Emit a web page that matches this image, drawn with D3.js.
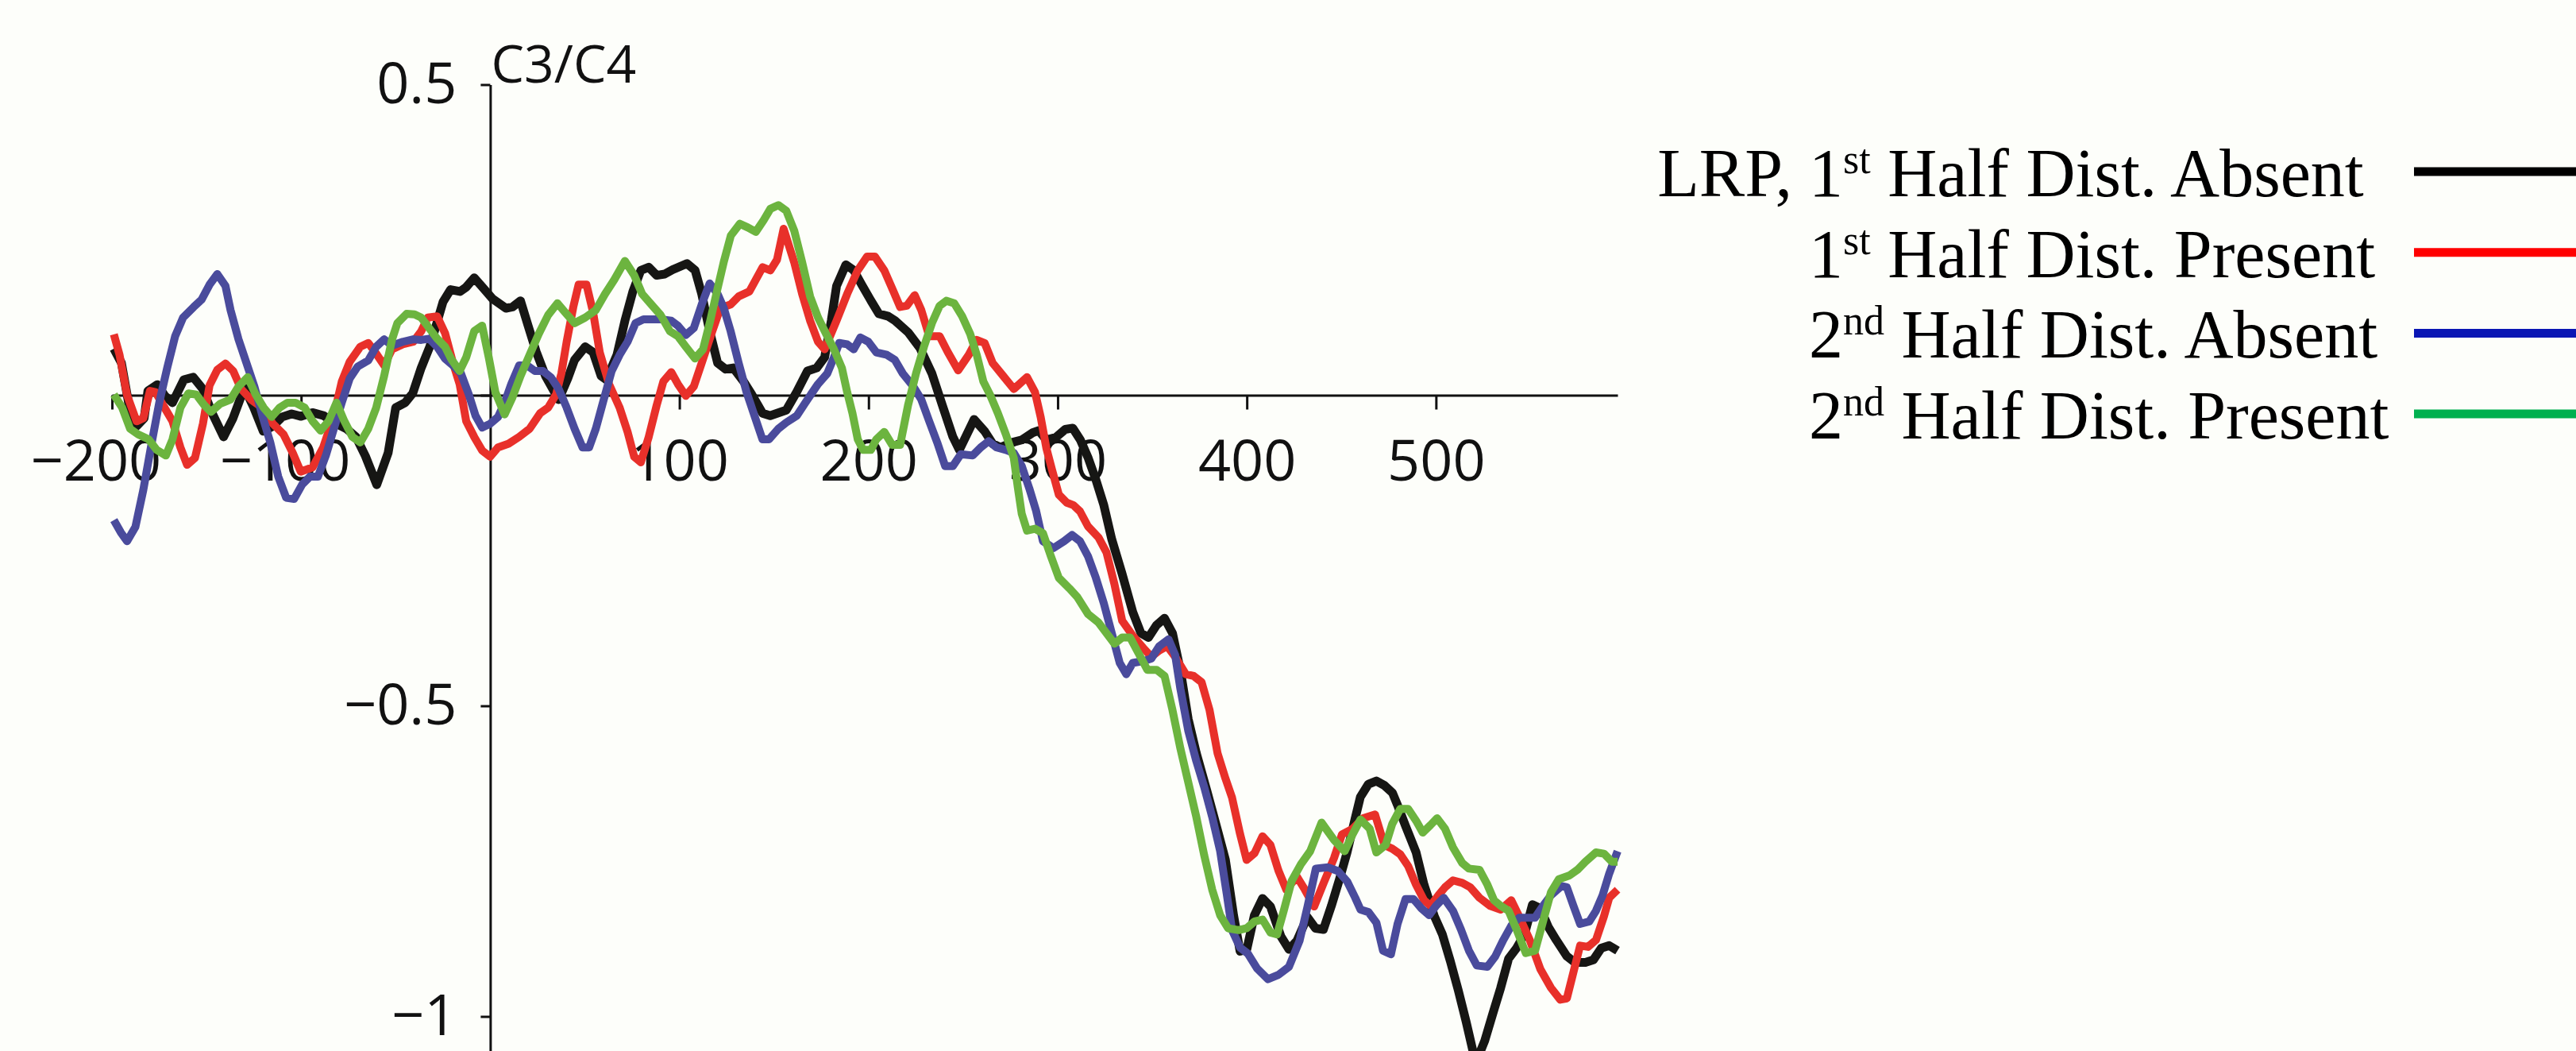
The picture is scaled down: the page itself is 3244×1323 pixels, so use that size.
<!DOCTYPE html>
<html>
<head>
<meta charset="utf-8">
<script src="https://cdn.jsdelivr.net/npm/d3@7"></script>
<style>
  html, body { margin: 0; padding: 0; background: #fdfefa; overflow: hidden; }
  svg { display: block; }
</style>
</head>
<body>
<svg id="chart" width="3244" height="1323"></svg>
<script>
// Lateralized readiness potential (C3/C4), time in ms vs amplitude.
// Each series: [time, amplitude] pairs.
const absent1st = [[-199,0.075],[-195,0.052],[-190,-0.033],[-187,-0.05],[-183,-0.037],[-181,0.007],[-176,0.017],[-172,-0.001],[-168,-0.012],[-162,0.025],[-157,0.029],[-152,0.01],[-147,-0.029],[-141,-0.067],[-136,-0.037],[-130,0.012],[-125,-0.02],[-120,-0.058],[-115,-0.05],[-110,-0.035],[-105,-0.03],[-100,-0.034],[-94,-0.028],[-88,-0.033],[-82,-0.045],[-76,-0.054],[-71,-0.067],[-66,-0.098],[-60,-0.144],[-54,-0.093],[-50,-0.02],[-45,-0.012],[-41,0.003],[-36.5,0.044],[-32,0.078],[-29.5,0.103],[-25,0.15],[-21,0.17],[-16,0.167],[-12.7,0.174],[-8.5,0.189],[-3.6,0.172],[1.3,0.155],[8.3,0.14],[11.8,0.142],[16,0.152],[20,0.112],[24.3,0.07],[29.2,0.031],[36.2,-0.007],[41,0.027],[44.6,0.057],[50.2,0.078],[54.4,0.069],[58.6,0.031],[61.4,0.025],[67,0.065],[71.2,0.12],[75.4,0.167],[79.6,0.201],[83.8,0.206],[88,0.193],[92.2,0.195],[96.4,0.202],[104,0.212],[108.3,0.201],[111.8,0.163],[116,0.103],[120.2,0.052],[124.4,0.042],[128.5,0.044],[134,0.022],[138.3,0.001],[144,-0.029],[148,-0.033],[156.5,-0.024],[162,0.005],[167.7,0.039],[172.6,0.044],[176.8,0.061],[180.3,0.12],[183.1,0.176],[188,0.21],[192.2,0.201],[196.4,0.178],[201.3,0.152],[205.5,0.131],[210.4,0.127],[214,0.12],[221,0.101],[227.2,0.076],[233.5,0.035],[239,-0.016],[244.6,-0.067],[248,-0.088],[255.8,-0.039],[261.4,-0.058],[265.6,-0.078],[269.8,-0.084],[276,-0.076],[281,-0.072],[287,-0.06],[290,-0.057],[294,-0.072],[299,-0.068],[304,-0.055],[308,-0.053],[312,-0.072],[316,-0.1],[320.2,-0.136],[324.4,-0.177],[328.6,-0.232],[334,-0.287],[339.7,-0.349],[344,-0.383],[348,-0.39],[352.3,-0.37],[356.5,-0.359],[360.7,-0.383],[365,-0.445],[369,-0.521],[373.3,-0.576],[379,-0.638],[384.5,-0.7],[388.7,-0.748],[393,-0.837],[396.4,-0.895],[400,-0.892],[404,-0.837],[408.3,-0.81],[412.5,-0.823],[418,-0.871],[422.3,-0.892],[426.5,-0.878],[432,-0.84],[436.3,-0.858],[440.5,-0.86],[444.7,-0.822],[449,-0.779],[453,-0.736],[457.3,-0.681],[460,-0.647],[464.3,-0.626],[468.5,-0.621],[472.7,-0.628],[477,-0.64],[479.7,-0.66],[484,-0.694],[489.5,-0.736],[493.7,-0.788],[499.2,-0.839],[503.4,-0.868],[507.6,-0.911],[511.8,-0.958],[516,-1.009],[521,-1.075],[525.8,-1.039],[530,-0.996],[534.2,-0.954],[538.4,-0.907],[542.6,-0.89],[546.8,-0.868],[551,-0.82],[555.2,-0.826],[559.4,-0.856],[563.6,-0.877],[569.2,-0.903],[573.4,-0.913],[579,-0.913],[583.2,-0.909],[587.4,-0.89],[591.6,-0.886],[596,-0.894]];

const present1st = [[-199,0.098],[-196,0.065],[-192,0.0],[-187,-0.042],[-183.4,-0.037],[-179.9,0.007],[-177,0.005],[-172.2,-0.02],[-168,-0.042],[-163.8,-0.084],[-160.3,-0.112],[-156.1,-0.101],[-151.9,-0.046],[-148.4,0.016],[-144.3,0.041],[-140,0.051],[-135.9,0.039],[-131.7,0.01],[-126.1,-0.008],[-120.5,-0.02],[-114.9,-0.046],[-109.3,-0.063],[-104.4,-0.093],[-100.2,-0.123],[-93.9,-0.116],[-88.3,-0.084],[-82.7,-0.033],[-78.5,0.022],[-74.3,0.054],[-68.7,0.078],[-64.5,0.084],[-60.3,0.067],[-56.1,0.048],[-51.9,0.074],[-46.3,0.082],[-40.7,0.086],[-36.5,0.103],[-33,0.125],[-28.1,0.127],[-23.9,0.1],[-19.7,0.052],[-16.2,0.018],[-12.7,-0.042],[-8.5,-0.067],[-4.3,-0.089],[-0.1,-0.099],[4.1,-0.084],[9.7,-0.078],[15.3,-0.067],[20.8,-0.054],[26.4,-0.029],[30.6,-0.02],[34.8,0.001],[37.6,0.035],[40.4,0.086],[43.9,0.142],[46.7,0.178],[50.9,0.178],[54.4,0.133],[57.9,0.069],[62.8,0.018],[68.4,-0.02],[72.6,-0.059],[76.1,-0.099],[79.6,-0.108],[83.8,-0.067],[88,-0.016],[91.5,0.022],[95.7,0.037],[99.2,0.018],[103.4,-0.001],[107.6,0.014],[111.8,0.052],[117.4,0.103],[121.6,0.14],[127.1,0.146],[131.3,0.159],[137,0.167],[144,0.206],[148.1,0.201],[151.6,0.218],[155.1,0.268],[160.7,0.214],[164.9,0.163],[169.1,0.12],[173.3,0.086],[176.8,0.074],[183.1,0.12],[188.7,0.163],[194.3,0.201],[199.2,0.223],[203.4,0.223],[208.3,0.201],[213.2,0.167],[216.7,0.142],[220.2,0.144],[224.4,0.161],[227.9,0.137],[232.1,0.095],[237.6,0.095],[241.8,0.07],[247.4,0.04],[253,0.065],[257.2,0.089],[261.4,0.084],[265.6,0.052],[271.2,0.031],[276.8,0.01],[283.8,0.029],[288,0.005],[291,-0.035],[294,-0.085],[297,-0.12],[300.6,-0.16],[304.8,-0.173],[308.3,-0.177],[311.8,-0.187],[316,-0.211],[321.6,-0.229],[325.8,-0.253],[330,-0.304],[334.1,-0.363],[339.7,-0.387],[345.3,-0.407],[349.5,-0.421],[353.7,-0.411],[357.9,-0.404],[362.1,-0.421],[367.7,-0.449],[371.9,-0.452],[376.1,-0.462],[380.3,-0.507],[384.5,-0.576],[388.7,-0.617],[392.2,-0.648],[396.4,-0.706],[399.9,-0.748],[404.1,-0.737],[408.3,-0.71],[412.5,-0.724],[416.7,-0.765],[420.9,-0.796],[426.5,-0.775],[430.7,-0.796],[435.6,-0.823],[440.5,-0.786],[446.1,-0.745],[450.3,-0.707],[455.9,-0.698],[461.5,-0.681],[467.8,-0.675],[472.7,-0.724],[476.9,-0.73],[481.1,-0.739],[485.3,-0.758],[489.5,-0.788],[493.7,-0.813],[497.1,-0.822],[501.3,-0.805],[504.8,-0.792],[509,-0.781],[513.9,-0.785],[518.1,-0.792],[523,-0.809],[528.6,-0.822],[534.2,-0.828],[539.8,-0.813],[544,-0.839],[549.6,-0.877],[555.2,-0.924],[560.8,-0.954],[565.7,-0.973],[569.2,-0.971],[572,-0.937],[576.2,-0.886],[580.4,-0.888],[584.6,-0.877],[588.8,-0.839],[591.6,-0.809],[596,-0.796]];

const absent2nd = [[-199,-0.201],[-195.3,-0.221],[-192,-0.235],[-187.6,-0.212],[-183.4,-0.152],[-179.2,-0.08],[-175,-0.012],[-170.8,0.044],[-166.6,0.095],[-162.4,0.125],[-156.8,0.142],[-152.6,0.154],[-148.4,0.178],[-144.3,0.195],[-140,0.176],[-137.3,0.137],[-133.1,0.09],[-128.9,0.052],[-124.7,0.014],[-120.5,-0.033],[-116.3,-0.076],[-112.1,-0.131],[-107.9,-0.165],[-103.7,-0.167],[-99.5,-0.144],[-95.3,-0.131],[-91.1,-0.131],[-86.9,-0.097],[-82.7,-0.054],[-78.5,-0.012],[-74.3,0.027],[-70.1,0.046],[-64.5,0.056],[-60.3,0.078],[-56.1,0.09],[-51.9,0.08],[-46.3,0.086],[-40.7,0.09],[-36.5,0.089],[-32.3,0.091],[-28.1,0.078],[-23.9,0.059],[-19.7,0.048],[-15.5,0.035],[-11.3,0.001],[-7.8,-0.033],[-4.3,-0.052],[-0.1,-0.046],[4.1,-0.035],[7.6,-0.012],[11.1,0.018],[15.3,0.048],[19.4,0.048],[23.6,0.039],[27.8,0.039],[32,0.029],[36.2,0.01],[40.4,-0.02],[44.6,-0.054],[48.8,-0.084],[52.3,-0.084],[55.8,-0.054],[60,-0.007],[64.2,0.039],[68.4,0.065],[72.6,0.086],[76.8,0.116],[81,0.122],[85.2,0.122],[90.8,0.122],[95.7,0.12],[99.2,0.112],[103.4,0.097],[107.6,0.108],[111.8,0.146],[116,0.18],[120.2,0.163],[123.5,0.14],[127.1,0.103],[131.3,0.052],[135.5,0.005],[139.7,-0.033],[143.9,-0.071],[147.4,-0.071],[152.3,-0.054],[156.5,-0.044],[162.1,-0.033],[167.7,-0.007],[173.3,0.018],[178.2,0.035],[181.7,0.061],[184.5,0.084],[188.7,0.082],[192.2,0.074],[195.7,0.093],[199.9,0.086],[204.1,0.069],[209.7,0.065],[213.9,0.057],[218.1,0.035],[223.7,0.014],[227.9,-0.007],[232.1,-0.042],[236.3,-0.076],[240.5,-0.114],[244.6,-0.114],[248.8,-0.095],[255.1,-0.097],[259.3,-0.084],[263.5,-0.074],[267.7,-0.084],[272.6,-0.088],[276.8,-0.093],[281,-0.114],[285,-0.15],[288.5,-0.185],[292.2,-0.235],[297.8,-0.246],[303.4,-0.235],[307.6,-0.225],[311.8,-0.235],[316,-0.259],[320.2,-0.294],[324.4,-0.335],[328.6,-0.383],[332.8,-0.431],[336.3,-0.449],[339.7,-0.431],[345.3,-0.428],[349.5,-0.424],[353.7,-0.404],[358.6,-0.393],[362.1,-0.418],[364.9,-0.473],[369.1,-0.541],[373.3,-0.589],[377.5,-0.631],[381.7,-0.679],[385.9,-0.734],[389.4,-0.803],[392.2,-0.861],[396.4,-0.889],[400.6,-0.899],[405.5,-0.923],[411.1,-0.94],[416.7,-0.933],[422.3,-0.92],[427.9,-0.878],[432.1,-0.823],[436.5,-0.762],[443,-0.76],[448.2,-0.766],[453.1,-0.783],[457.3,-0.809],[460.1,-0.828],[464.3,-0.832],[468.5,-0.849],[472,-0.894],[476.2,-0.9],[479.7,-0.851],[483.9,-0.811],[488.1,-0.811],[492.3,-0.826],[496.4,-0.837],[500,-0.822],[504.1,-0.809],[509,-0.83],[513.2,-0.86],[517.4,-0.894],[521.6,-0.918],[527.2,-0.92],[531.4,-0.903],[535.6,-0.877],[539.8,-0.854],[544,-0.841],[552.4,-0.841],[556.6,-0.822],[560.8,-0.805],[566.4,-0.79],[569.2,-0.792],[572.7,-0.822],[576.2,-0.851],[581.1,-0.847],[584.6,-0.83],[588.1,-0.805],[591.6,-0.77],[596,-0.734]];

const present2nd = [[-199,0.001],[-194.6,-0.02],[-190.4,-0.054],[-186.2,-0.063],[-180.6,-0.071],[-176.4,-0.088],[-171.5,-0.097],[-168,-0.071],[-163.8,-0.02],[-159.6,0.003],[-155.4,0.001],[-151.2,-0.016],[-147.7,-0.027],[-142.9,-0.014],[-137.3,-0.007],[-133.1,0.014],[-128.2,0.029],[-124,0.001],[-119.8,-0.02],[-115.6,-0.035],[-111.4,-0.02],[-107.2,-0.012],[-103,-0.012],[-98.1,-0.02],[-93.9,-0.042],[-89.7,-0.057],[-85.5,-0.042],[-81.3,-0.012],[-77.1,-0.042],[-72.9,-0.067],[-68.7,-0.076],[-64.5,-0.054],[-60.3,-0.02],[-56.1,0.031],[-51.9,0.09],[-49.1,0.116],[-44.2,0.131],[-40,0.13],[-36.5,0.125],[-32.3,0.108],[-28.1,0.091],[-23.9,0.078],[-20.4,0.057],[-16.2,0.039],[-12.7,0.061],[-8.5,0.103],[-4.3,0.112],[-0.8,0.061],[2.7,0.005],[7.6,-0.031],[11.8,-0.003],[16,0.031],[20.8,0.065],[25.7,0.099],[30.6,0.129],[35.5,0.148],[39.7,0.133],[44.6,0.116],[50.2,0.125],[55.8,0.137],[60.7,0.163],[65.6,0.186],[71.2,0.216],[76.1,0.193],[80.3,0.163],[85.2,0.146],[90.1,0.129],[95,0.103],[99.2,0.095],[103.4,0.078],[108.3,0.059],[112.5,0.074],[116,0.116],[120.2,0.172],[123.5,0.215],[127.2,0.257],[132,0.276],[136.2,0.27],[140.4,0.263],[144.6,0.282],[148.1,0.3],[152.3,0.306],[156.5,0.297],[160.7,0.265],[164.9,0.214],[169.1,0.159],[173.3,0.125],[177.5,0.099],[181.7,0.074],[185.9,0.044],[188.7,0.005],[191.5,-0.029],[194.3,-0.071],[197.1,-0.088],[201.3,-0.088],[204.1,-0.071],[208.3,-0.059],[212.5,-0.08],[216.7,-0.08],[220.9,-0.016],[225.1,0.035],[229.3,0.078],[233.5,0.116],[237.6,0.144],[241.1,0.152],[245.3,0.148],[249.5,0.127],[253.7,0.099],[257.2,0.065],[260.7,0.022],[264.2,0.001],[268.4,-0.029],[272.6,-0.063],[276.8,-0.101],[279,-0.15],[281,-0.191],[283.8,-0.218],[288,-0.215],[292.2,-0.222],[296.4,-0.259],[300.6,-0.294],[306.2,-0.311],[310.4,-0.325],[316,-0.352],[321.6,-0.366],[325.8,-0.383],[330,-0.4],[334.1,-0.39],[338.3,-0.39],[342.5,-0.414],[347.4,-0.442],[352.3,-0.442],[356.5,-0.452],[360.7,-0.507],[364.9,-0.569],[369.1,-0.624],[373.3,-0.679],[377.5,-0.741],[381.7,-0.796],[385.9,-0.837],[390.1,-0.858],[395.7,-0.861],[399.9,-0.858],[404.1,-0.847],[408.3,-0.844],[412.5,-0.865],[416,-0.868],[419.5,-0.83],[423.7,-0.782],[428.6,-0.755],[433.5,-0.734],[439.5,-0.688],[446.1,-0.716],[451.7,-0.734],[455.9,-0.707],[460.1,-0.683],[465,-0.698],[468.5,-0.736],[473.4,-0.724],[476.9,-0.69],[481.1,-0.666],[485.3,-0.666],[489.5,-0.685],[493,-0.704],[497.1,-0.692],[500.6,-0.681],[504.8,-0.698],[509,-0.728],[513.9,-0.753],[517.4,-0.762],[523,-0.764],[527.2,-0.788],[530.7,-0.813],[534.2,-0.822],[538.4,-0.83],[542.6,-0.86],[547.5,-0.898],[552.4,-0.894],[556.6,-0.847],[560.8,-0.8],[565,-0.779],[570.6,-0.773],[574.8,-0.764],[579,-0.751],[584.6,-0.736],[588.8,-0.738],[593,-0.751],[596,-0.751]];

// Axis ticks
const xTickValues = [-200, -100, 100, 200, 300, 400, 500];
const yTickValues = [0.5, 0, -0.5, -1];

// Legend entries (drawn top to bottom)
const legendPrefix = ["LRP,", "", "", ""];
const legendOrdinal = ["1", "1", "2", "2"];
const legendSuffix = ["st", "st", "nd", "nd"];
const legendText = [" Half Dist. Absent", " Half Dist. Present", " Half Dist. Absent", " Half Dist. Present"];

const seriesData = [absent1st, present1st, absent2nd, present2nd];
const lineColors = ["#161614", "#e8302a", "#4a4b9c", "#6cb43f"];
const lineWidths = [11, 10, 10, 10];
const swatchColors = ["#000000", "#ff0000", "#0a16b4", "#00b050"];

const W = 3244, H = 1323;
const svg = d3.select("#chart");

const x = d3.scaleLinear().domain([-200, 596]).range([141, 2037]);
const y = d3.scaleLinear().domain([0.5, -1]).range([106.5, 1279.5]);

const tickFont = "'Open Sans', 'DejaVu Sans', sans-serif";
const tickSize = 72;

// x axis through zero amplitude
const xAxis = svg.append("g")
  .attr("transform", `translate(0,${y(0)})`)
  .call(d3.axisBottom(x).tickValues(xTickValues).tickSize(18).tickSizeOuter(0).tickFormat(d3.format("~g")));

// y axis through time zero, running down past the bottom edge
const yAxisScale = y.copy().domain([0.5, y.invert(H + 5)]).range([y(0.5), H + 5]);
const yAxis = svg.append("g")
  .attr("transform", `translate(${x(0)},0)`)
  .call(d3.axisLeft(yAxisScale).tickValues(yTickValues).tickSize(12).tickSizeOuter(0).tickPadding(30)
    .tickFormat(d => d === 0 ? "" : d3.format("~g")(d)));

[xAxis, yAxis].forEach(g => {
  g.select(".domain").attr("stroke", "#111").attr("stroke-width", 3);
  g.selectAll(".tick line").attr("stroke", "#111").attr("stroke-width", 3);
  g.selectAll(".tick text")
    .attr("fill", "#111")
    .style("font-family", tickFont)
    .style("font-size", tickSize + "px");
});

xAxis.selectAll(".tick text").attr("y", 107).attr("dy", 0);
yAxis.selectAll(".tick text").attr("dy", "0.32em");

// center negative x labels on their digits, letting the minus sign hang left
const probe = svg.append("text").style("font-family", tickFont).style("font-size", tickSize + "px").text("\u2212");
const minusW = probe.node().getComputedTextLength();
probe.remove();
xAxis.selectAll(".tick text").attr("dx", d => d < 0 ? -minusW / 2 : 0);

// channel label
svg.append("text")
  .attr("x", x(0) + 1)
  .attr("y", 104)
  .style("font-family", tickFont)
  .style("font-size", "66px")
  .attr("fill", "#111")
  .text("C3/C4");

// waveforms
const line = d3.line().x(d => x(d[0])).y(d => y(d[1]));
svg.append("g")
  .selectAll("path")
  .data(seriesData)
  .join("path")
  .attr("d", line)
  .attr("fill", "none")
  .attr("stroke", (d, i) => lineColors[i])
  .attr("stroke-width", (d, i) => lineWidths[i])
  .attr("stroke-linejoin", "round")
  .attr("stroke-linecap", "butt");

// legend
const legendX = 2278, legendY0 = 247, legendStep = 101.7;
const legend = svg.append("g")
  .style("font-family", "'Liberation Serif', 'Times New Roman', serif")
  .style("font-size", "86px")
  .attr("fill", "#000");

legendOrdinal.forEach((ord, i) => {
  const by = legendY0 + i * legendStep;
  if (legendPrefix[i]) {
    legend.append("text")
      .attr("x", legendX - 21)
      .attr("y", by)
      .attr("text-anchor", "end")
      .text(legendPrefix[i]);
  }
  const t = legend.append("text")
    .attr("x", legendX)
    .attr("y", by)
    .attr("xml:space", "preserve")
    .style("white-space", "pre");
  t.append("tspan").text(ord);
  t.append("tspan").attr("dy", -29).style("font-size", "52px").text(legendSuffix[i]);
  t.append("tspan").attr("dy", 29).text(legendText[i]);

  legend.append("line")
    .attr("x1", 3040).attr("x2", W + 10)
    .attr("y1", by - 31).attr("y2", by - 31)
    .attr("stroke", swatchColors[i])
    .attr("stroke-width", 11);
});
</script>
</body>
</html>
